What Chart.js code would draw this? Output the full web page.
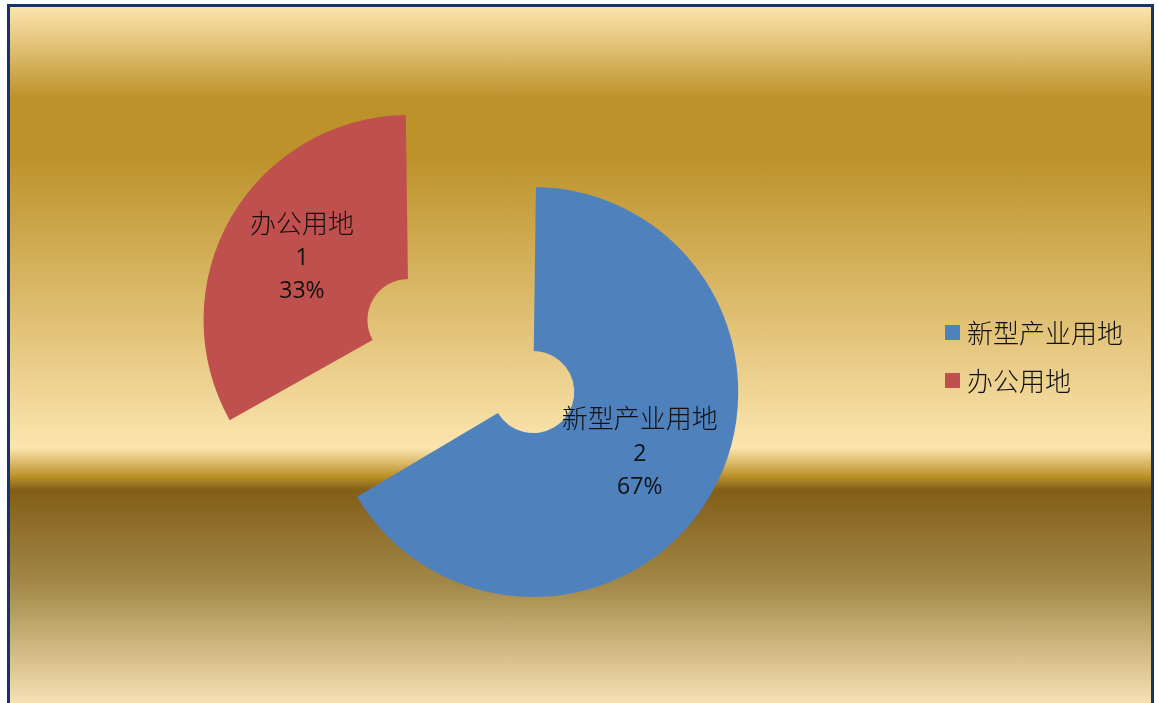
<!DOCTYPE html>
<html>
<head>
<meta charset="utf-8">
<script src="https://cdn.jsdelivr.net/npm/chart.js@4.4.0/dist/chart.umd.min.js"></script>
<style>
  html, body { margin: 0; padding: 0; background: #fff; overflow: hidden; }
  body { width: 1159px; height: 703px; position: relative; }
  .frame {
    position: absolute; left: 7px; top: 4px; width: 1141px; height: 700px;
    border: 3px solid #17336b;
    background: linear-gradient(to bottom, #fbe4ae 0%, #bd922a 13%, #bd922a 21.5%, #fbe4ae 63%,
      #bd922a 67%, #835e17 69%, #a28949 82.5%, #fae3b7 100%);
  }
  #chart { position: absolute; left: 0; top: 0; }
  .legend {
    position: absolute; left: 945px; top: 308px; margin: 0; padding: 0; list-style: none;
    font: 300 26px "Noto Sans CJK SC", sans-serif; color: #111;
  }
  .legend li { height: 48px; line-height: 48px; display: flex; align-items: center; white-space: nowrap; }
  .legend span { display: inline-block; width: 15px; height: 15px; margin-right: 7px; }
</style>
</head>
<body>
<div class="frame"></div>
<canvas id="chart" width="1159" height="703"></canvas>
<ul class="legend"></ul>
<script>
const labels = ['新型产业用地', '办公用地'];
const values = [2, 1];
const colors = ['#4f81bd', '#c0504d'];
const explode = [68, 508];

const total = values.reduce((a, b) => a + b, 0);

// draws name / value / percent in the middle of each (exploded) slice
const sliceLabels = {
  id: 'sliceLabels',
  afterDatasetsDraw(chart) {
    const ctx = chart.ctx;
    const meta = chart.getDatasetMeta(0);
    meta.data.forEach((arc, i) => {
      const p = arc.getProps(['x', 'y', 'startAngle', 'endAngle', 'innerRadius', 'outerRadius', 'circumference'], true);
      const shift = (arc.options.offset || 0) / 4;
      const grow = shift * (1 - Math.sin(Math.min(Math.PI, p.circumference)));
      const mid = (p.startAngle + p.endAngle) / 2;
      const dist = shift + grow + (p.innerRadius + p.outerRadius) / 2;
      const x = p.x + Math.cos(mid) * dist;
      const y = p.y + Math.sin(mid) * dist;

      ctx.save();
      ctx.fillStyle = '#111';
      ctx.textAlign = 'center';
      ctx.textBaseline = 'middle';
      ctx.font = '300 26px "Noto Sans CJK SC"';
      ctx.fillText(labels[i], x, y - 35);
      ctx.textBaseline = 'alphabetic';
      ctx.font = '23px "Open Sans"';
      ctx.fillText(String(values[i]), x, y + 7);
      ctx.fillText(Math.round(values[i] / total * 100) + '%', x, y + 40);
      ctx.restore();
    });
  }
};

const chart = new Chart(document.getElementById('chart'), {
  type: 'doughnut',
  data: {
    labels: labels,
    datasets: [{
      data: values,
      backgroundColor: colors,
      borderWidth: 0,
      offset: explode,
      hoverOffset: 0,
    }],
  },
  options: {
    responsive: false,
    animation: false,
    radius: 188,
    cutout: '12.8%',
    layout: {padding: {left: 0, right: 122, top: 64, bottom: 0}},
    plugins: {
      legend: {display: false},
      tooltip: {enabled: false},
    },
  },
  plugins: [sliceLabels],
});

const legendWrapper = document.querySelector('.legend');
legendWrapper.innerHTML = labels.map((label, i) =>
  '<li><span style="background:' + colors[i] + '"></span>' + label + '</li>').join('');
</script>
</body>
</html>
